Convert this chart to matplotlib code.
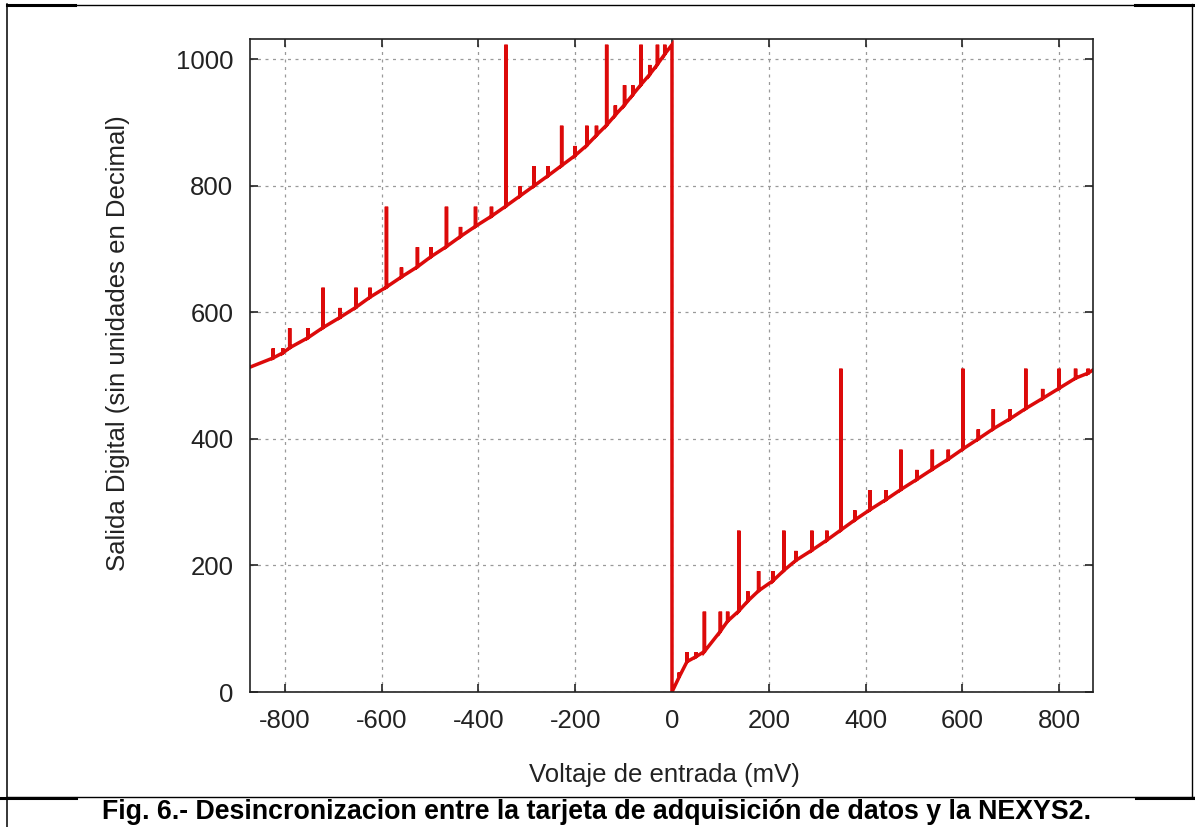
import matplotlib
matplotlib.use('Agg')
import matplotlib.pyplot as plt
from matplotlib.lines import Line2D

plt.rcParams['font.family'] = 'Liberation Sans'
plt.rcParams['axes.unicode_minus'] = False

# ADC output vs input voltage, negative half of the sweep.
# each entry: input (mV), output code after the step, glitch peak at the step
neg_volt = [-870, -824, -804, -790, -752, -721, -686, -653, -624, -590, -559,
            -526, -498, -466, -437, -406, -373, -343, -314, -285, -256, -228,
            -200, -176, -156, -135, -117, -98, -81, -64, -46, -30, -15, 0]
neg_code = [514, 528, 536, 544, 560, 576, 592, 608, 624, 640, 656,
            672, 688, 704, 720, 736, 752, 768, 784, 800, 816, 832,
            848, 864, 880, 896, 912, 928, 944, 960, 976, 992, 1008, 1023]
neg_peak = [514, 543, 543, 575, 575, 639, 607, 639, 639, 767, 671,
            703, 703, 767, 735, 767, 767, 1023, 799, 831, 831, 895,
            863, 895, 895, 1023, 927, 959, 959, 1023, 991, 1023, 1023, 1023]

# positive half of the sweep
pos_volt = [0, 15, 31, 50, 67, 100, 115, 138, 157, 179, 209, 231, 256, 289,
            320, 349, 378, 409, 442, 473, 506, 538, 571, 601, 633, 664, 699,
            731, 766, 800, 834, 860, 870]
pos_code = [0, 24, 48, 56, 64, 96, 112, 128, 144, 160, 176, 192, 208, 224,
            240, 256, 272, 288, 304, 320, 336, 352, 368, 384, 400, 416, 432,
            448, 464, 480, 496, 504, 509]
pos_peak = [0, 31, 63, 63, 127, 127, 127, 255, 159, 191, 191, 255, 223, 255,
            255, 511, 287, 319, 319, 383, 351, 383, 383, 511, 415, 447, 447,
            511, 479, 511, 511, 511, 509]

x_ticks = [-800, -600, -400, -200, 0, 200, 400, 600, 800]
y_ticks = [0, 200, 400, 600, 800, 1000]


def glitch_trace(volts, codes, peaks):
    # every step is drawn as a jump up to the glitch value and back down
    xs, ys = [], []
    for v, c, p in zip(volts, codes, peaks):
        xs += [v, v, v]
        ys += [c, p, c]
    return xs, ys


nx, ny = glitch_trace(neg_volt, neg_code, neg_peak)
px, py = glitch_trace(pos_volt, pos_code, pos_peak)

W, H = 1195, 827
fig = plt.figure(figsize=(W / 100, H / 100), dpi=100)
ax = fig.add_axes([250 / W, 1 - 692 / H, (1093 - 250) / W, (692 - 39) / H])

ax.plot(nx + px, ny + py, color='#dc0a0a', lw=2.5, solid_joinstyle='miter')

ax.set_xlim(-872, 870)
ax.set_ylim(0, 1032)
ax.set_xticks(x_ticks)
ax.set_yticks(y_ticks)
ax.grid(True, color='#9a9a9a', lw=0.9, linestyle=(0, (2.4, 3.6)))
ax.set_axisbelow(True)

for s in ax.spines.values():
    s.set_linewidth(1.2)
    s.set_color('#222222')
ax.tick_params(direction='in', length=5.5, width=1.2, top=True, right=True,
               labelsize=18.5, colors='#222222')
ax.tick_params(axis='x', pad=12)
ax.tick_params(axis='y', pad=12)

ax.set_xlabel('Voltaje de entrada (mV)', fontsize=18.5, color='#222222', va='center')
ax.set_ylabel('Salida Digital (sin unidades en Decimal)', fontsize=18.5,
              color='#222222', va='center')
ax.xaxis.set_label_coords(0.492, -0.127)
ax.yaxis.set_label_coords(-0.1566, 0.535)

fig.text(597 / W, 1 - 812 / H,
         'Fig. 6.- Desincronizacion entre la tarjeta de adquisición de datos y la NEXYS2.',
         ha='center', va='center', fontsize=19.3, fontweight='bold', color='black')

# page frame around the figure
def frame_line(x0, x1, y0, y1, lw):
    fig.add_artist(Line2D([x0 / W, x1 / W], [1 - y0 / H, 1 - y1 / H],
                          transform=fig.transFigure, color='black', lw=lw))

frame_line(7, 7, 4, 827, 1.1)
frame_line(7, 1195, 4.5, 4.5, 1.0)
frame_line(7, 75, 5, 5, 2.2)
frame_line(1135, 1195, 5, 5, 2.2)
frame_line(7, 1195, 797, 797, 1.0)
frame_line(0, 76, 797.5, 797.5, 2.2)
frame_line(1136, 1195, 797.5, 797.5, 2.2)
frame_line(1192, 1192, 4, 797, 1.0)

fig.savefig('out.png', dpi=100, facecolor='white')
